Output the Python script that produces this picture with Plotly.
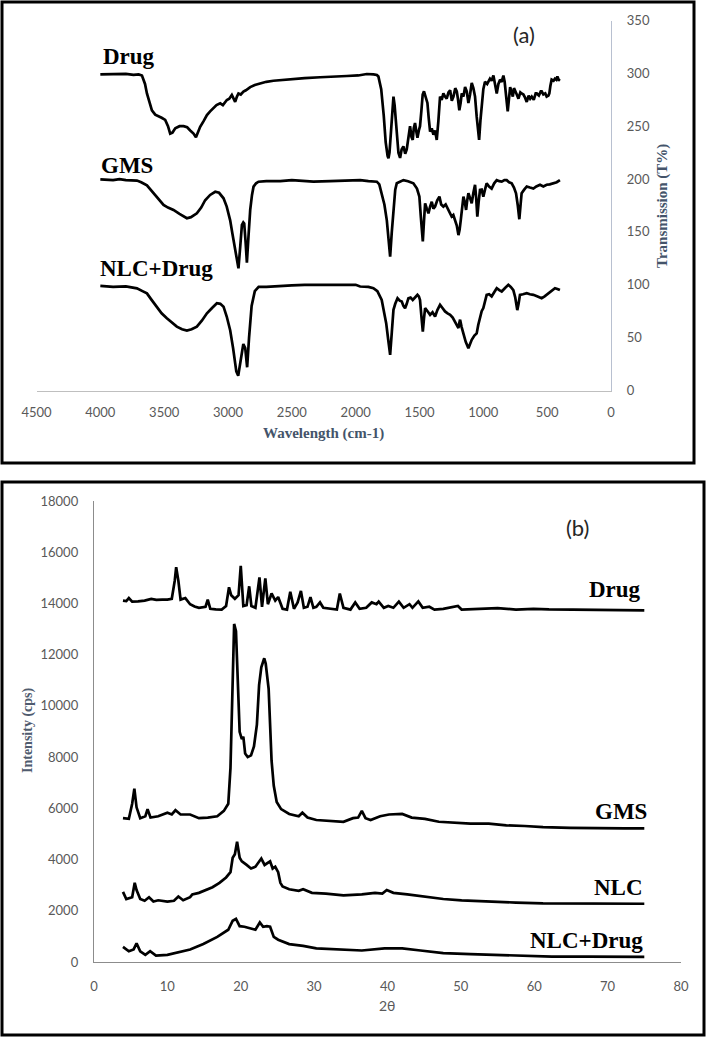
import plotly.graph_objects as go

W, H = 709, 1040

# ---------------- Panel (a): FTIR ----------------
drug_ir_wn = [4000, 3900, 3800, 3740, 3700, 3674, 3650, 3635, 3615, 3596, 3570, 3544, 3520, 3492, 3470, 3453, 3435, 3413, 3380, 3348,
              3320, 3296, 3270, 3251, 3235, 3218, 3190, 3165, 3140, 3113, 3090, 3061, 3040, 3009, 2990, 2970, 2955, 2944, 2930, 2918,
              2900, 2879, 2860, 2826, 2790, 2748, 2700, 2644, 2560, 2487, 2400, 2278, 2200, 2069, 1980, 1913, 1860, 1834, 1822, 1800,
              1780, 1765, 1750, 1743, 1735, 1720, 1710, 1704, 1695, 1680, 1665, 1652, 1640, 1626, 1612, 1600, 1587, 1574, 1563, 1553,
              1545, 1535, 1525, 1516, 1505, 1496, 1485, 1475, 1465, 1452, 1438, 1428, 1417, 1404, 1391, 1378, 1365, 1352, 1339, 1326,
              1313, 1300, 1287, 1273, 1260, 1247, 1234, 1220, 1208, 1198, 1188, 1178, 1169, 1156, 1143, 1130, 1117, 1104, 1091, 1078,
              1065, 1052, 1042, 1033, 1023, 1013, 1000, 987, 970, 948, 935, 921, 908, 895, 882, 869, 856, 843, 833, 824,
              816, 809, 800, 790, 780, 769, 760, 751, 738, 725, 710, 700, 686, 673, 660, 645, 633, 621, 605, 590,
              582, 565, 550, 543, 530, 515, 504, 490, 483, 475, 465, 450, 439, 428, 420, 410, 400]
drug_ir_t = [299, 299, 299.5, 298.5, 299, 298, 290, 281, 272, 265, 261, 259, 258, 256, 250, 243, 244, 248, 250, 250,
             249, 246, 243, 239.5, 245, 249.5, 255, 260.6, 264, 267, 270, 271.7, 270, 274.8, 276, 279.5, 276, 273, 278, 281,
             280, 282.7, 284, 287, 289, 290.6, 292, 293, 294, 295, 295.5, 296.3, 297, 297.5, 298, 299.4, 299, 298.5, 297, 285,
             260, 235, 222, 219.6, 225, 255, 275, 278, 270, 245, 225, 220, 228, 231, 224, 228, 240, 250, 240, 237,
             248, 253, 245, 239, 246, 250, 265, 280, 283, 278, 272, 258, 245, 248, 242, 246, 237, 255, 278, 275,
             281, 278, 276, 282, 284, 274, 278, 286, 283, 275, 265, 272, 281, 278, 287, 283, 272, 280, 291, 286,
             278, 259, 245, 237, 255, 272, 285, 292, 290, 295, 293, 298, 290, 281, 290, 294, 292, 298, 292, 284,
             272, 264, 278, 287, 283, 278, 286, 284, 280, 276, 282, 281, 280, 277, 273, 279, 276, 278, 275, 281,
             281, 279, 283, 283, 280, 281, 278, 279, 281, 288, 294, 293, 295, 294, 297, 294, 293]

gms_ir_wn = [4000, 3900, 3850, 3800, 3713, 3680, 3635, 3600, 3557, 3530, 3505, 3470, 3427, 3380, 3322, 3290, 3244, 3210, 3179, 3140,
             3100, 3070, 3035, 3010, 2983, 2965, 2944, 2930, 2918, 2905, 2891, 2880, 2873, 2862, 2852, 2840, 2826, 2812, 2800, 2780,
             2761, 2700, 2591, 2500, 2400, 2331, 2200, 2069, 1965, 1900, 1861, 1834, 1815, 1796, 1775, 1756, 1743, 1730, 1717, 1704,
             1690, 1678, 1652, 1626, 1590, 1548, 1520, 1501, 1490, 1480, 1474, 1465, 1456, 1443, 1430, 1417, 1404, 1391, 1378, 1361,
             1344, 1330, 1313, 1295, 1274, 1260, 1248, 1235, 1221, 1208, 1195, 1186, 1177, 1166, 1156, 1145, 1135, 1126, 1117, 1104,
             1091, 1078, 1065, 1056, 1047, 1037, 1026, 1013, 1000, 987, 974, 955, 935, 915, 895, 875, 856, 835, 817, 798,
             778, 760, 744, 730, 718, 708, 700, 680, 660, 635, 608, 585, 556, 530, 504, 480, 452, 425, 400]
gms_ir_t = [199.8, 199, 200, 199, 198.6, 197, 194, 189, 183, 179, 175.5, 173, 170.8, 167, 163, 164, 167.6, 173, 180, 185,
            188, 187, 181.8, 174, 161, 148, 133, 122, 115.6, 135, 156.6, 159, 158, 140, 121, 145, 170.8, 185, 192.8, 196,
            197.5, 198, 198, 199, 198, 197.5, 198, 198.5, 199, 198, 197.6, 197.5, 195, 186.6, 176, 161, 145, 126.6, 150, 174,
            190, 196, 197.5, 199, 198, 196, 191, 183.4, 165, 148, 141, 160, 177, 172, 167.6, 174, 178.6, 172, 174, 180,
            183.4, 176, 174, 176, 170.8, 168, 164.5, 166, 161.3, 156, 147, 152, 161, 175, 183.4, 178, 170.8, 180, 186.6, 182,
            177, 187, 194.6, 182, 164.5, 178, 189.7, 190, 183.4, 190, 196, 193, 191, 196, 199, 198, 197.6, 199, 199, 197,
            196, 192, 186.6, 175, 162, 176, 186.6, 190, 193, 192, 191, 193, 194.6, 193, 194.6, 195, 196, 197, 199]

nlcd_ir_wn = [4000, 3900, 3800, 3713, 3670, 3635, 3600, 3557, 3520, 3479, 3440, 3401, 3360, 3322, 3285, 3244, 3205, 3165, 3125, 3087,
              3060, 3035, 3010, 2983, 2960, 2935, 2920, 2900, 2880, 2865, 2850, 2835, 2815, 2790, 2760, 2700, 2600, 2500, 2400, 2200,
              2000, 1965, 1900, 1861, 1830, 1796, 1778, 1761, 1745, 1730, 1717, 1704, 1690, 1672, 1655, 1639, 1626, 1613, 1600, 1587,
              1570, 1553, 1535, 1516, 1505, 1496, 1485, 1474, 1465, 1456, 1437, 1417, 1398, 1378, 1360, 1339, 1320, 1300, 1280, 1260,
              1240, 1221, 1208, 1195, 1188, 1182, 1170, 1156, 1138, 1117, 1104, 1091, 1070, 1052, 1040, 1026, 1013, 1000, 987, 974,
              955, 935, 915, 895, 875, 856, 830, 804, 785, 765, 750, 734, 724, 713, 690, 660, 635, 608, 575, 543,
              520, 491, 465, 439, 420, 400]
nlcd_ir_t = [98.9, 98, 98.5, 96.6, 94, 91.9, 86, 79.3, 73, 68.3, 64, 60.4, 58, 56.7, 58, 60.4, 66, 73, 78, 82.5,
             82, 79.3, 70, 57, 40, 18, 14, 30, 44, 40, 22, 50, 80, 94, 98, 98, 99, 99.5, 100, 100,
             100, 98.4, 98, 96.8, 94, 85.7, 76, 63.7, 48, 33.7, 55, 76.3, 82, 87.3, 85, 84.2, 80, 77.9, 82, 87.3,
             88, 85.7, 88, 90.5, 89, 85.7, 70, 55.7, 68, 77.9, 75, 71.6, 74, 70, 76, 81, 78, 74.8, 73, 71.6,
             69, 65.3, 62, 59, 64, 67, 60, 54, 46, 40, 44, 48, 52, 54, 62, 70, 75, 78, 84, 90.5,
             91, 89, 93, 96.8, 95, 93.7, 97, 100, 98, 95, 88, 76, 82, 90.5, 91, 92, 91, 90.5, 89, 87.3,
             89, 92, 94, 96.8, 96, 95]

ir_ticks = [4500, 4000, 3500, 3000, 2500, 2000, 1500, 1000, 500, 0]
t_ticks = [0, 50, 100, 150, 200, 250, 300, 350]

# ---------------- Panel (b): XRD ----------------
drug_xrd_2t = [3.95, 4.4, 4.75, 5.2, 6.0, 6.9, 7.8, 8.5, 9.3, 10.0, 10.6, 11.0, 11.2, 11.5, 11.8, 12.45, 13.1, 13.7, 14.3, 15.2,
               15.5, 15.85, 16.6, 17.4, 18.0, 18.4, 18.7, 19.2, 19.7, 20.0, 20.35, 20.8, 21.15, 21.45, 22.0, 22.55, 22.9, 23.35, 23.7, 24.2,
               24.7, 25.1, 25.7, 26.3, 26.75, 27.25, 27.75, 28.2, 28.6, 29.1, 29.5, 29.9, 30.3, 30.8, 31.25, 32.2, 33.1, 33.5, 34.0, 34.95,
               35.6, 36.2, 37.1, 37.85, 38.5, 38.8, 39.5, 40.1, 40.8, 41.55, 42.2, 43.0, 43.4, 44.2, 44.8, 45.7, 46.4, 47.6, 48.8, 49.6,
               50.1, 52.5, 55.0, 57.5, 59.9, 62.0, 64.2, 66.5, 68.6, 70.5, 72.3, 75.0]
drug_xrd_i = [14110, 14090, 14208, 14068, 14080, 14110, 14180, 14140, 14150, 14150, 14180, 14880, 15415, 14880, 14150, 14210, 13970, 13880, 13830, 13870,
              14150, 13790, 13770, 13760, 13900, 14630, 14320, 14180, 14320, 15470, 13900, 13930, 14670, 13900, 13830, 15020, 13870, 14980, 13970, 14390,
              14110, 14250, 13790, 13760, 14460, 13790, 14040, 14490, 13830, 13870, 14250, 13830, 13870, 14040, 13830, 13790, 13760, 14390, 13830, 13760,
              14040, 13790, 13830, 14040, 13970, 14070, 13830, 13900, 13830, 14070, 13830, 13970, 13830, 14080, 13830, 13870, 13760, 13790, 13870, 13900,
              13760, 13790, 13820, 13760, 13790, 13770, 13760, 13750, 13750, 13740, 13730, 13730]

gms_xrd_2t = [3.95, 4.75, 5.2, 5.5, 5.8, 6.3, 7.0, 7.3, 7.7, 8.75, 10.0, 10.6, 11.1, 11.8, 13.1, 14.3, 15.5, 16.8, 17.7, 18.3,
              18.6, 18.9, 19.1, 19.35, 19.6, 19.85, 20.15, 20.35, 20.6, 20.95, 21.4, 21.8, 22.2, 22.5, 22.8, 23.2, 23.4, 23.8, 24.2, 24.5,
              24.9, 25.5, 26.6, 27.9, 28.4, 29.1, 30.3, 32.2, 34.0, 35.3, 36.0, 36.5, 37.0, 37.7, 39.0, 40.2, 41.4, 42.0, 43.3, 45.1,
              47.0, 48.8, 51.3, 53.8, 56.2, 58.7, 61.2, 64.9, 68.6, 72.3, 75.0]
gms_xrd_i = [5616, 5590, 6180, 6770, 6040, 5616, 5690, 5970, 5640, 5690, 5830, 5760, 5925, 5760, 5760, 5616, 5640, 5690, 5900, 6180,
             7580, 10670, 13200, 12920, 10670, 8990, 8700, 8800, 8140, 8000, 8070, 8420, 9270, 10810, 11510, 11860, 11650, 10670, 7860, 6880,
             6250, 5970, 5780, 5690, 5830, 5640, 5545, 5500, 5475, 5616, 5640, 5900, 5616, 5545, 5690, 5760, 5760, 5780, 5640, 5590,
             5475, 5450, 5400, 5400, 5335, 5310, 5265, 5240, 5220, 5220, 5220]

nlc_xrd_2t = [3.95, 4.4, 5.2, 5.55, 5.8, 6.3, 6.9, 7.5, 8.1, 8.75, 10.0, 10.9, 11.5, 12.15, 13.1, 13.4, 14.3, 15.2, 16.15, 17.1,
              18.0, 18.6, 18.9, 19.2, 19.5, 19.85, 20.15, 20.8, 21.4, 22.0, 22.45, 22.8, 23.25, 23.7, 24.0, 24.35, 24.7, 25.1, 25.4, 25.7,
              26.6, 27.9, 28.5, 29.7, 31.6, 34.0, 36.5, 38.3, 39.3, 39.9, 40.8, 42.7, 45.1, 47.6, 50.1, 53.8, 57.5, 61.2, 66.1, 70.4,
              75.0]
nlc_xrd_i = [2740, 2460, 2530, 3090, 2810, 2460, 2390, 2530, 2360, 2410, 2360, 2390, 2555, 2410, 2530, 2640, 2700, 2810, 2920, 3090,
             3300, 3510, 4070, 4210, 4700, 4070, 3930, 3790, 3650, 3720, 3930, 4040, 3790, 3860, 3930, 3650, 3720, 3510, 3090, 2950,
             2840, 2780, 2840, 2700, 2670, 2600, 2640, 2700, 2670, 2810, 2700, 2640, 2555, 2460, 2410, 2360, 2320, 2290, 2275, 2275,
             2275]

nlcd_xrd_2t = [3.95, 4.75, 5.4, 5.8, 6.3, 7.0, 7.65, 8.45, 10.0, 11.5, 13.1, 14.9, 16.8, 18.3, 18.9, 19.35, 19.85, 20.5, 21.1, 22.0,
               22.6, 23.05, 23.55, 24.0, 24.5, 25.1, 26.6, 28.5, 30.3, 32.8, 36.5, 39.6, 42.0, 44.5, 47.6, 51.3, 55.0, 58.7, 62.4, 67.3,
               75.0]
nlcd_xrd_i = [590, 420, 490, 730, 420, 280, 420, 250, 280, 390, 490, 700, 980, 1260, 1610, 1685, 1400, 1375, 1330, 1260,
              1545, 1375, 1400, 1375, 980, 870, 700, 630, 530, 490, 450, 530, 530, 450, 350, 310, 280, 250, 210, 210,
              200]

xrd_ticks = [0, 10, 20, 30, 40, 50, 60, 70, 80]
int_ticks = [0, 2000, 4000, 6000, 8000, 10000, 12000, 14000, 16000, 18000]
int_tick_text = [str(v) for v in int_ticks]


def px(x):
    return x / W


def py(y):
    return 1 - y / H


line = dict(color="black", width=2.7)
fig = go.Figure()
for xs, ys in [(drug_ir_wn, drug_ir_t), (gms_ir_wn, gms_ir_t), (nlcd_ir_wn, nlcd_ir_t)]:
    fig.add_trace(go.Scatter(x=xs, y=ys, mode="lines", line=line, xaxis="x", yaxis="y",
                             showlegend=False, hoverinfo="skip"))
for xs, ys in [(drug_xrd_2t, drug_xrd_i), (gms_xrd_2t, gms_xrd_i), (nlc_xrd_2t, nlc_xrd_i), (nlcd_xrd_2t, nlcd_xrd_i)]:
    fig.add_trace(go.Scatter(x=xs, y=ys, mode="lines", line=line, xaxis="x2", yaxis="y2",
                             showlegend=False, hoverinfo="skip"))

tickfont = dict(family="Lato", size=13, color="#595959")
serif_title = dict(family="Liberation Serif", size=15, color="#44546A")
label_font = dict(family="Liberation Serif", size=23, color="black")

common = dict(showgrid=False, zeroline=False, showline=True, linewidth=1.2, ticks="",
              tickfont=tickfont, automargin=False, fixedrange=True)

fig.update_layout(
    template="none",
    width=W, height=H, autosize=False,
    margin=dict(l=0, r=0, t=0, b=0, pad=0),
    paper_bgcolor="white", plot_bgcolor="white",
    xaxis=dict(domain=[px(36.5), px(611)], range=[4500, 0], tickvals=ir_ticks,
               linecolor="#BFBFBF", ticklabelstandoff=10, anchor="y", **common),
    yaxis=dict(domain=[py(390.5), py(20.5)], range=[0, 350], tickvals=t_ticks, side="right",
               linecolor="#B8C0D0", ticklabelstandoff=12, anchor="x", **common),
    xaxis2=dict(domain=[px(94), px(681)], range=[0, 80], tickvals=xrd_ticks,
                linecolor="#8C8C8C", ticklabelstandoff=12, anchor="y2", **common),
    yaxis2=dict(domain=[py(962), py(501)], range=[0, 18000], tickvals=int_ticks, ticktext=int_tick_text,
                linecolor="#8C8C8C", ticklabelstandoff=12, anchor="x2", **common),
    shapes=[
        dict(type="rect", xref="paper", yref="paper", x0=px(2), x1=px(694), y0=py(463), y1=py(2),
             line=dict(color="black", width=3)),
        dict(type="rect", xref="paper", yref="paper", x0=px(2), x1=px(704), y0=py(1035), y1=py(482),
             line=dict(color="black", width=3)),
    ],
)

ann = []
# panel (a) sample labels
ann.append(dict(x=3995, y=316, xref="x", yref="y", text="<b>Drug</b>", xanchor="left", yanchor="middle",
                showarrow=False, font=label_font))
ann.append(dict(x=4014, y=213, xref="x", yref="y", text="<b>GMS</b>", xanchor="left", yanchor="middle",
                showarrow=False, font=label_font))
ann.append(dict(x=4022, y=115, xref="x", yref="y", text="<b>NLC+Drug</b>", xanchor="left", yanchor="middle",
                showarrow=False, font=label_font))
ann.append(dict(x=px(524), y=py(35), xref="paper", yref="paper", text="(a)", showarrow=False,
                xanchor="center", yanchor="middle", font=dict(family="Lato", size=22, color="#262626")))
ann.append(dict(x=px(323), y=py(433), xref="paper", yref="paper", text="<b>Wavelength (cm-1)</b>",
                showarrow=False, xanchor="center", yanchor="middle", font=serif_title))
ann.append(dict(x=px(663), y=py(206), xref="paper", yref="paper", text="<b>Transmission (T%)</b>",
                showarrow=False, xanchor="center", yanchor="middle", textangle=-90, font=serif_title))
# panel (b) sample labels
ann.append(dict(x=74.8, y=14560, xref="x2", yref="y2", text="<b>Drug</b>", xanchor="right", yanchor="middle",
                showarrow=False, font=label_font))
ann.append(dict(x=75.6, y=5880, xref="x2", yref="y2", text="<b>GMS</b>", xanchor="right", yanchor="middle",
                showarrow=False, font=label_font))
ann.append(dict(x=75.1, y=2900, xref="x2", yref="y2", text="<b>NLC</b>", xanchor="right", yanchor="middle",
                showarrow=False, font=label_font))
ann.append(dict(x=75.1, y=850, xref="x2", yref="y2", text="<b>NLC+Drug</b>", xanchor="right", yanchor="middle",
                showarrow=False, font=label_font))
ann.append(dict(x=px(577), y=py(527), xref="paper", yref="paper", text="(b)", showarrow=False,
                xanchor="center", yanchor="middle", font=dict(family="Lato", size=22, color="#262626")))
ann.append(dict(x=px(28), y=py(730), xref="paper", yref="paper", text="<b>Intensity (cps)</b>",
                showarrow=False, xanchor="center", yanchor="middle", textangle=-90,
                font=dict(family="Liberation Serif", size=14, color="#4F5B6E")))
ann.append(dict(x=px(387), y=py(1005), xref="paper", yref="paper", text="2θ",
                showarrow=False, xanchor="center", yanchor="middle",
                font=dict(family="Lato", size=14, color="#595959")))
fig.update_layout(annotations=ann)

fig.write_html("out.html",
               config={"displayModeBar": False, "staticPlot": True},
               post_script="document.body.style.margin='0';document.body.style.padding='0';"
                           "document.body.style.overflow='hidden';")
